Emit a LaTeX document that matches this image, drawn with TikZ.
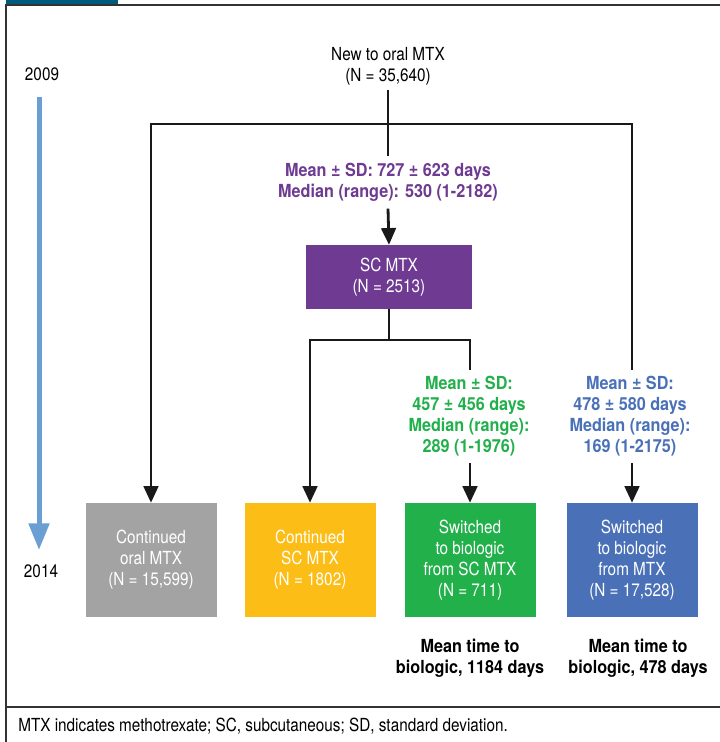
\documentclass[tikz,border=0pt]{standalone}
\usepackage{fontspec}
\setmainfont{TeX Gyre Heros}[FakeStretch=0.85, BoldFeatures={FakeStretch=0.9}]
\usepackage{tikz}
\usetikzlibrary{arrows.meta}
\definecolor{tabteal}{HTML}{005A7C}
\definecolor{framegray}{HTML}{333333}
\definecolor{timeblue}{HTML}{6A9FD4}
\definecolor{scpurple}{HTML}{6E3A92}
\definecolor{oralgray}{HTML}{A3A3A3}
\definecolor{scyellow}{HTML}{FBBD16}
\definecolor{swgreen}{HTML}{22B04B}
\definecolor{swblue}{HTML}{4A71B8}

\begin{document}
\begin{tikzpicture}[x=0.75pt, y=-0.75pt, font=\fontsize{13.5}{15.75}\selectfont,
    box_node/.style={rectangle, text=white, align=center, minimum width=98.25pt, minimum height=85.5pt, inner sep=0},
    lab_node/.style={align=center, font=\fontsize{13.5}{15.75}\selectfont\bfseries, inner sep=5pt},
    link/.style={line width=2.1pt, draw=black!90},
    arr/.style={link, -{Triangle[width=11pt,length=12.5pt]}}]
    \useasboundingbox (0,0) rectangle (720,742);
    \fill[white] (0,0) rectangle (720,742);
    % frame
    \fill[tabteal] (6,0) rectangle (118,5);
    \draw[framegray, line width=1.5pt] (6,742) -- (6,5) -- (720,5);
    \draw[framegray, line width=1.5pt] (6,707) -- (720,707);
    % timeline
    \node (y2009) at (42,74) {2009};
    \node (y2014) at (41,571) {2014};
    \coordinate (t_top) at (39,97);
    \coordinate (t_bot) at (39,550);
    \draw[timeblue, line width=3.75pt, -{Triangle[width=15pt,length=20pt]}] (t_top) -- (t_bot);
    % nodes
    \node[align=center] (new) at (388,66) {New to oral MTX\\(N = 35,640)};
    \node[lab_node, text=scpurple] (lab_sc) at (388,182.5) {Mean ± SD: 727 ± 623 days\\Median (range): 530 (1-2182)};
    \node[box_node, fill=scpurple, minimum width=124.5pt, minimum height=48pt] (sc) at (389,277) {SC MTX\\(N = 2513)};
    \node[lab_node, text=swgreen] (lab_green) at (469,416.5) {Mean ± SD:\\457 ± 456 days\\Median (range):\\289 (1-1976)};
    \node[lab_node, text=swblue] (lab_blue) at (630,416.5) {Mean ± SD:\\478 ± 580 days\\Median (range):\\169 (1-2175)};
    \node[box_node, fill=oralgray] (oral) at (151,560) {Continued\\oral MTX\\(N = 15,599)};
    \node[box_node, fill=scyellow] (cont_sc) at (310,560) {Continued\\SC MTX\\(N = 1802)};
    \node[box_node, fill=swgreen] (sw_sc) at (470,560) {Switched\\to biologic\\from SC MTX\\(N = 711)};
    \node[box_node, fill=swblue] (sw_mtx) at (632,560) {Switched\\to biologic\\from MTX\\(N = 17,528)};
    \node[lab_node, inner sep=0] (mean_sc) at (470,658) {Mean time to\\biologic, 1184 days};
    \node[lab_node, inner sep=0] (mean_mtx) at (638,658) {Mean time to\\biologic, 478 days};
    \node[anchor=west, inner sep=0] (foot) at (18,726) {MTX indicates methotrexate; SC, subcutaneous; SD, standard deviation.};
    % connectors
    \coordinate (j1) at (388,124);
    \coordinate (j2) at (389,340);
    \draw[link] (new.south) -- (lab_sc.north);
    \draw[arr] (lab_sc.south) -- (sc.north);
    \draw[arr] (j1) -| (oral.north);
    \draw[link] (j1) -| (lab_blue.north -| sw_mtx.north);
    \draw[arr] (lab_blue.south -| sw_mtx.north) -- (sw_mtx.north);
    \draw[link] (sc.south) -- (j2);
    \draw[arr] (j2) -| (cont_sc.north);
    \draw[link] (j2) -| (lab_green.north -| sw_sc.north);
    \draw[arr] (lab_green.south -| sw_sc.north) -- (sw_sc.north);
\end{tikzpicture}
\end{document}
